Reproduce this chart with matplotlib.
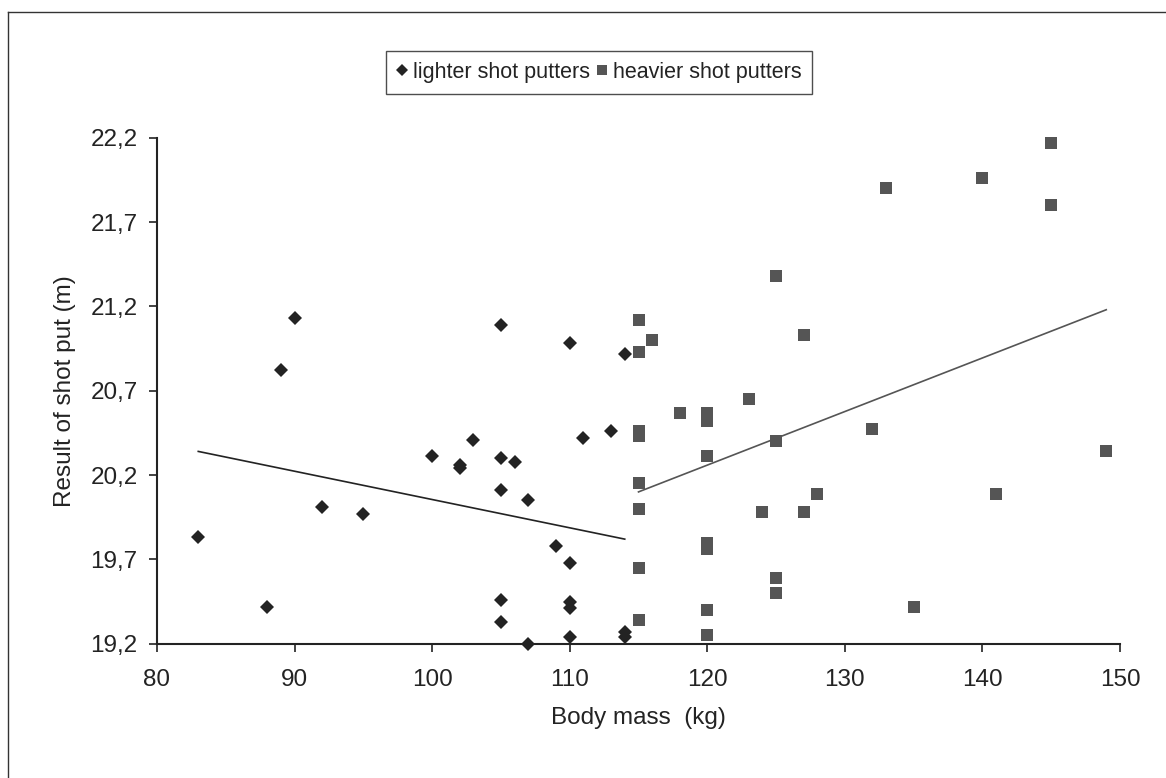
import matplotlib
matplotlib.use("Agg")
import matplotlib.pyplot as plt
from matplotlib.lines import Line2D
from matplotlib.ticker import FixedLocator

plt.rcParams['font.family'] = ['Liberation Sans', 'DejaVu Sans']

# lighter shot putters (body mass kg, result m)
light_mass = [83, 88, 89, 90, 92, 95, 100, 102, 102, 103,
              105, 105, 105, 105, 105, 106, 107, 107, 109,
              110, 110, 110, 110, 110, 111, 113, 114, 114, 114]
light_result = [19.83, 19.42, 20.82, 21.13, 20.01, 19.97, 20.31, 20.24, 20.26, 20.41,
                21.09, 20.30, 20.11, 19.46, 19.33, 20.28, 20.05, 19.20, 19.78,
                20.98, 19.68, 19.45, 19.41, 19.24, 20.42, 20.46, 20.92, 19.27, 19.24]

# heavier shot putters
heavy_mass = [115, 115, 115, 115, 115, 115, 115, 115, 116, 118,
              120, 120, 120, 120, 120, 120, 120, 123, 124,
              125, 125, 125, 125, 127, 127, 128, 132, 133, 135,
              140, 141, 145, 145, 149]
heavy_result = [21.12, 20.93, 20.46, 20.43, 20.15, 20.00, 19.65, 19.34, 21.00, 20.57,
                20.57, 20.52, 20.31, 19.80, 19.76, 19.40, 19.25, 20.65, 19.98,
                21.38, 20.40, 19.59, 19.50, 21.03, 19.98, 20.09, 20.47, 21.90, 19.42,
                21.96, 20.09, 22.17, 21.80, 20.34]

# trend lines as drawn in the original (end points)
light_trend_x = [83, 114]
light_trend_y = [20.34, 19.82]
heavy_trend_x = [115, 149]
heavy_trend_y = [20.10, 21.18]

x_ticks = [80, 90, 100, 110, 120, 130, 140, 150]
y_ticks = [19.2, 19.7, 20.2, 20.7, 21.2, 21.7, 22.2]
y_labels = ["19,2", "19,7", "20,2", "20,7", "21,2", "21,7", "22,2"]

dark = "#232323"
grey = "#555555"
fs = 17.5

fig = plt.figure(figsize=(11.66, 7.78), dpi=100)
ax = fig.add_axes([157 / 1166, 1 - 643.7 / 778, (1120 - 157) / 1166, (643.7 - 137.7) / 778])

ax.plot(light_mass, light_result, linestyle="none", marker="D", markersize=6.8,
        color=dark, markeredgewidth=0, label="lighter shot putters", clip_on=False, zorder=3)
ax.plot(heavy_mass, heavy_result, linestyle="none", marker="s", markersize=8,
        color=grey, markeredgewidth=0, label="heavier shot putters", clip_on=False, zorder=3)
ax.plot(light_trend_x, light_trend_y, color=dark, linewidth=1.2, zorder=2)
ax.plot(heavy_trend_x, heavy_trend_y, color=grey, linewidth=1.2, zorder=2)

ax.set_xlim(80, 150)
ax.set_ylim(19.2, 22.2)
ax.xaxis.set_major_locator(FixedLocator(x_ticks))
ax.set_yticks(y_ticks)
ax.set_yticklabels(y_labels)

for s in ["top", "right"]:
    ax.spines[s].set_visible(False)
for s in ["left", "bottom"]:
    ax.spines[s].set_linewidth(1.5)
    ax.spines[s].set_color(dark)

ax.tick_params(axis="both", direction="out", length=6, width=1.2, color=dark,
               labelsize=fs, labelcolor=dark)
ax.tick_params(axis="x", pad=12.5)
ax.tick_params(axis="y", pad=8)

ax.set_xlabel("Body mass  (kg)", fontsize=fs, color=dark, labelpad=11.5)
ax.set_ylabel("Result of shot put (m)", fontsize=fs, color=dark, labelpad=10.5)

leg = fig.legend(loc="center", bbox_to_anchor=(599 / 1166, 1 - 72.5 / 778), ncol=2,
                 fontsize=15.5, frameon=True, fancybox=False, shadow=False,
                 handlelength=0.5, handletextpad=0.25, columnspacing=0.3,
                 borderpad=0.5, borderaxespad=0, markerscale=0.9)
leg.get_frame().set_edgecolor("#222222")
leg.get_frame().set_linewidth(1.0)
for t in leg.get_texts():
    t.set_color(dark)

# outer chart frame (left and top edges visible)
fig.add_artist(Line2D([8 / 1166, 8 / 1166], [0, 1 - 12 / 778], color="#333333", linewidth=1.0))
fig.add_artist(Line2D([8 / 1166, 1], [1 - 12 / 778, 1 - 12 / 778], color="#333333", linewidth=1.0))

fig.savefig("out.png", dpi=100)
